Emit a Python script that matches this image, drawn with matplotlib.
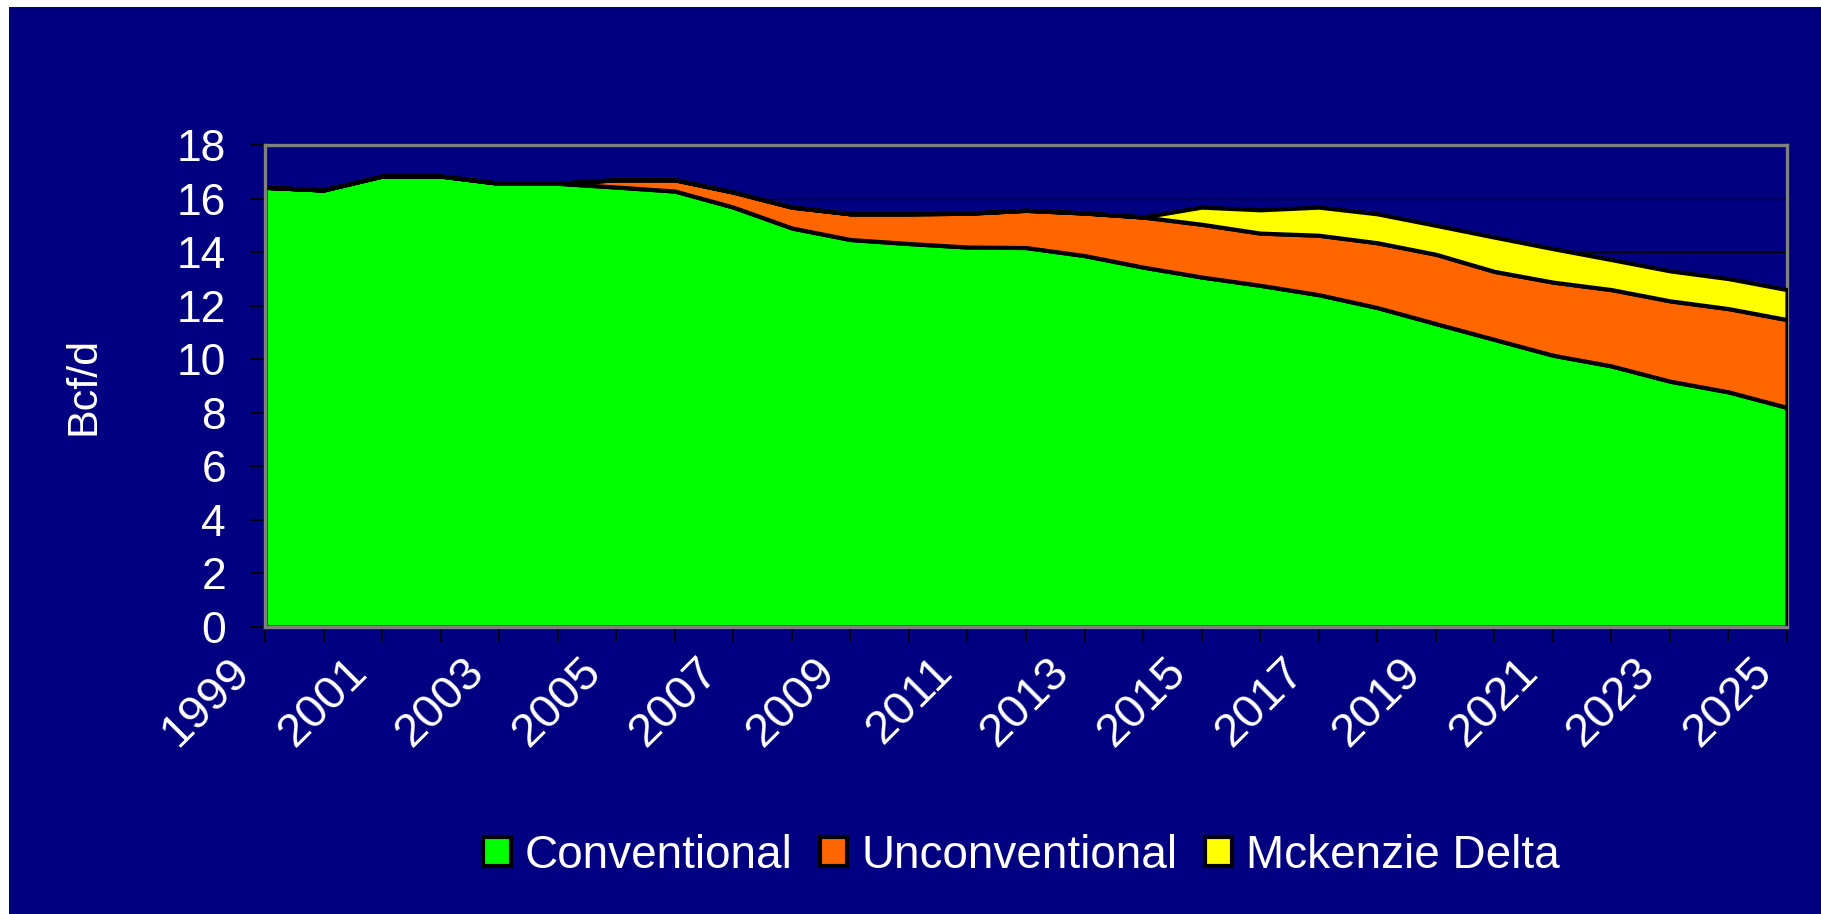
import numpy as np
import matplotlib.pyplot as plt
from matplotlib.patches import Rectangle
import matplotlib.transforms as mtransforms

# gas supply outlook, Bcf/d
years = list(range(1999, 2026))
conventional = [16.42, 16.32, 16.84, 16.84, 16.57, 16.57, 16.43, 16.28, 15.68, 14.90,
                14.47, 14.32, 14.19, 14.17, 13.87, 13.44, 13.07, 12.76, 12.41, 11.93,
                11.33, 10.74, 10.15, 9.75, 9.18, 8.78, 8.20]
unconventional = [0, 0, 0, 0, 0, 0, 0.27, 0.42, 0.56, 0.78,
                  0.96, 1.11, 1.26, 1.39, 1.59, 1.87, 1.97, 1.95, 2.22, 2.42,
                  2.59, 2.54, 2.73, 2.85, 3.00, 3.11, 3.28]
mckenzie = [0, 0, 0, 0, 0, 0, 0, 0, 0, 0,
            0, 0, 0, 0, 0, 0, 0.64, 0.87, 1.05, 1.08,
            1.08, 1.28, 1.25, 1.12, 1.12, 1.12, 1.12]
series_names = ["Conventional", "Unconventional", "Mckenzie Delta"]
colors = ["#00FF00", "#FF6600", "#FFFF00"]

navy = "#000080"
plt.rcParams["font.family"] = ["Liberation Sans", "DejaVu Sans"]

fig = plt.figure(figsize=(18.21, 9.14), dpi=100, facecolor="white")
# navy slide background with thin white margin at top and left
fig.patches.append(Rectangle((9 / 1821, 0), 1, 1 - 7 / 914, transform=fig.transFigure,
                             facecolor=navy, edgecolor="none", zorder=-10))

ax = fig.add_axes([265 / 1821, 1 - 627 / 914, 1522 / 1821, 482 / 914])
ax.set_facecolor(navy)

ax.stackplot(years, conventional, unconventional, mckenzie, colors=colors,
             labels=series_names, edgecolor="black", linewidth=3, zorder=2)

ax.set_xlim(1999, 2025)
ax.set_ylim(0, 18)
ax.set_yticks(np.arange(0, 19, 2))
ax.set_xticks(years)
ax.set_xticklabels([str(y) if (y - 1999) % 2 == 0 else "" for y in years],
                   rotation=45, ha="right", va="top")

ax.set_axisbelow(True)
ax.yaxis.grid(True, color="black", linewidth=0.9)
ax.tick_params(axis="both", colors="black", length=11, width=1.2, direction="out",
               labelcolor="white", labelsize=32)
ax.tick_params(axis="y", pad=17)
ax.tick_params(axis="x", pad=5, labelsize=34)

for lab in ax.get_xticklabels():
    lab.set_transform(lab.get_transform() +
                      mtransforms.ScaledTranslation(-0.06, 0, fig.dpi_scale_trans))

for side in ["top", "right", "left", "bottom"]:
    ax.spines[side].set_color("#808080")
    ax.spines[side].set_linewidth(2.4)
ax.spines["right"].set_zorder(1)

ax.set_ylabel("Bcf/d", color="white", fontsize=31)
ax.yaxis.set_label_coords(-0.106, 0.5)

leg = ax.legend(loc="center", bbox_to_anchor=(0.561, 0.0635), bbox_transform=fig.transFigure,
                ncol=3, frameon=False, fontsize=33, labelcolor="white",
                handlelength=0.6, handleheight=0.6, handletextpad=0.3, columnspacing=0.6)

fig.savefig("out.png", dpi=100, facecolor=fig.get_facecolor())
